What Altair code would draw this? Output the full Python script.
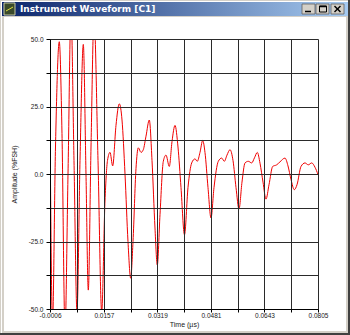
import altair as alt
import pandas as pd

# ---- data ----
time_us = [-0.0006, 0.00016, 0.00106, 0.00221, 0.00303, 0.00394, 0.00485, 0.00575, 0.00666, 0.00757,
           0.00848, 0.00948, 0.01029, 0.01099, 0.01181, 0.01272, 0.01393, 0.01504, 0.01604, 0.01680,
           0.01756, 0.01837, 0.01937, 0.02037, 0.02119, 0.02210, 0.02300, 0.02382, 0.02452, 0.02542,
           0.02612, 0.02694, 0.02763, 0.02845, 0.02945, 0.03027, 0.03117, 0.03187, 0.03269, 0.03369,
           0.03450, 0.03550, 0.03632, 0.03723, 0.03813, 0.03904, 0.04010, 0.04116, 0.04228, 0.04328,
           0.04397, 0.04479, 0.04561, 0.04630, 0.04721, 0.04812, 0.04903, 0.05033, 0.05136, 0.05215,
           0.05296, 0.05387, 0.05478, 0.05569, 0.05659, 0.05750, 0.05841, 0.05941, 0.06044, 0.06128,
           0.06213, 0.06295, 0.06386, 0.06476, 0.06567, 0.06679, 0.06800, 0.06900, 0.07051, 0.07142,
           0.07233, 0.07333, 0.07414, 0.07536, 0.07657, 0.07756, 0.07859, 0.07959, 0.08050]
amplitude = [19, -55, 10, 49, 15, -58, 0, 60, 5, -51,
             5, 48, 0, -43, 10, 58, 5, -51, -10, 5,
             8, 3, 18, 26, 20, 0, -25, -38.6, -25, 2,
             9.7, 8, 9, 14, 20, 5, -20, -33.7, -15, 4.7,
             7, 2.8, 12, 18, 10, -5, -22.5, -5, 4.1, 5.6,
             4.7, 8, 12.4, 8, -5, -16.3, -5, 4.7, 5.9, 4.7,
             7, 9, 5, -5, -13, -3, 4.1, 4.7, 4.1, 6,
             8, 4, -3, -9.3, -4, 2.8, 3.4, 4.5, 5.9, 3,
             -2, -5.8, -4, 2.8, 4.1, 3.4, 4.1, 2.5, -0.2]

x_major_ticks = [-0.0006, 0.0157, 0.0319, 0.0481, 0.0643, 0.0805]
x_major_labels = ["-0.0006", "0.0157", "0.0319", "0.0481", "0.0643", "0.0805"]
x_minor_ticks = [0.0075, 0.0238, 0.0400, 0.0562, 0.0724]
y_ticks = [-50, -37.5, -25, -12.5, 0, 12.5, 25, 37.5, 50]
y_major_ticks = [-50, -25, 0, 25, 50]
y_major_labels = ["-50.0", "-25.0", "0.0", "25.0", "50.0"]

window_title = "Instrument Waveform [C1]"
x_title = "Time (µs)"
y_title = "Amplitude (%FSH)"


def label_expr(vals, labs):
    return " : ".join(f"datum.value == {v!r} ? '{l}'" for v, l in zip(vals, labs)) + " : ''"


df = pd.DataFrame({"t": time_us, "a": amplitude})
one = pd.DataFrame({"k": [0]})

FONT = "Liberation Sans"

line = alt.Chart(df).mark_line(color="#f00000", strokeWidth=1, clip=True, interpolate="monotone").encode(
    x=alt.X("t:Q",
            scale=alt.Scale(domain=[-0.0006, 0.0805], nice=False, zero=False),
            axis=alt.Axis(values=sorted(x_major_ticks + x_minor_ticks),
                          labelExpr=label_expr(x_major_ticks, x_major_labels),
                          grid=True, gridColor="#2a2a2a", gridWidth=1,
                          domainColor="#000000", tickColor="#000000", tickSize=3,
                          labelFont=FONT, labelFontSize=6.5, labelColor="#222222",
                          labelPadding=0, labelFlush=False, labelOverlap=False, labelBound=False,
                          title=x_title, titleFont=FONT, titleFontSize=7, titleFontWeight="normal",
                          titleColor="#222222", titleY=11, zindex=1)),
    y=alt.Y("a:Q",
            scale=alt.Scale(domain=[-50, 50], nice=False, zero=False),
            axis=alt.Axis(values=y_ticks,
                          labelExpr=label_expr(y_major_ticks, y_major_labels),
                          grid=True, gridColor="#2a2a2a", gridWidth=1,
                          domainColor="#000000", tickColor="#000000", tickSize=4,
                          labelFont=FONT, labelFontSize=6.5, labelColor="#222222",
                          labelPadding=3, labelFlush=False, labelOverlap=False, labelBound=False,
                          title=y_title, titleFont=FONT, titleFontSize=7, titleFontWeight="normal",
                          titleColor="#222222", titleX=-33, titleY=135, zindex=1)),
)


def rect(x, x2, y, y2, **kw):
    return alt.Chart(one).mark_rect(**kw).encode(
        x=alt.value(x), x2=alt.value(x2), y=alt.value(y), y2=alt.value(y2))


def rule(x, x2, y, y2, **kw):
    return alt.Chart(one).mark_rule(**kw).encode(
        x=alt.value(x), x2=alt.value(x2), y=alt.value(y), y2=alt.value(y2))


# window chrome (coordinates relative to the plot origin)
client = rect(-46, 296, -22, 292, fill="white")
frame_light_v = rect(-49, -48, -38, 295, fill="white")
frame_light_h = rect(-49, 299, -38, -37, fill="white")
frame_dark_v = rect(298, 300, -39, 296, fill="#404040")
frame_dark_h = rect(-50, 300, 294, 296, fill="#404040")
title_bar = rect(-48, 298, -37, -23, fill=alt.LinearGradient(
    gradient="linear",
    stops=[alt.GradientStop(offset=0, color="#0a246a"), alt.GradientStop(offset=1, color="#a6caf0")],
    x1=0, x2=1, y1=0, y2=0))
icon = rect(-46, -35, -36, -24, fill="#3a4a2a", stroke="#c8c8a0", strokeWidth=1)
icon_line = rule(-44, -37, -28, -32, color="#e0e040", strokeWidth=1)
title_txt = alt.Chart(one).mark_text(text=window_title, font="DejaVu Sans", fontWeight="bold",
                                     fontSize=9, color="white", align="left", baseline="middle").encode(
    x=alt.value(-30), y=alt.value(-30))
btn_min = rect(252, 265, -35, -25, fill="#d4d0c8", stroke="#606060", strokeWidth=0.8)
btn_max = rect(266, 279, -35, -25, fill="#d4d0c8", stroke="#606060", strokeWidth=0.8)
btn_close = rect(281, 294, -35, -25, fill="#d4d0c8", stroke="#606060", strokeWidth=0.8)
g_min = rule(255, 261, -27.5, -27.5, color="black", strokeWidth=1.5)
g_max = rect(269.5, 276.5, -33, -27, fill="transparent", stroke="black", strokeWidth=1)
g_max_top = rule(269.5, 276.5, -32.5, -32.5, color="black", strokeWidth=1.5)
g_c1 = rule(284.5, 290.5, -33, -27, color="black", strokeWidth=1.5)
g_c2 = rule(290.5, 284.5, -33, -27, color="black", strokeWidth=1.5)

chart = alt.layer(
    client, frame_light_v, frame_light_h, frame_dark_v, frame_dark_h,
    title_bar, icon, icon_line, title_txt,
    btn_min, btn_max, btn_close, g_min, g_max, g_max_top, g_c1, g_c2,
    line,
).properties(
    width=268, height=270,
    padding={"left": 50, "top": 39, "right": 32, "bottom": 26},
    autosize=alt.AutoSizeParams(type="none"),
    background="#d4d0c8",
).configure_view(strokeWidth=0)

chart.save("out.html", embed_options={"renderer": "svg", "actions": False})
